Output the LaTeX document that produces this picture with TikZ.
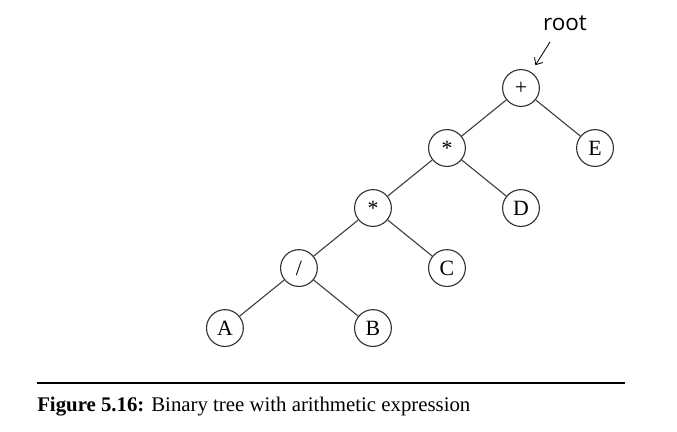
\documentclass[tikz,border=0pt]{standalone}
\usepackage{fontspec}
\setmainfont{Liberation Serif}
\newfontfamily\rootfont{Open Sans}
\usetikzlibrary{positioning, arrows.meta}

\begin{document}
\begin{tikzpicture}[x=0.025cm, y=-0.025cm, node distance=1.5cm and 1.85cm, on grid, >={Straight Barb[length=4pt, width=7pt]}]
    \tikzset{
        opnode/.style={draw, circle, line width=0.8pt, draw=black!80, minimum size=0.92cm, inner sep=0pt, font=\fontsize{15.5}{17}\selectfont},
        edge/.style={line width=0.8pt, draw=black!75}
    }
    \useasboundingbox (0,0) rectangle (677,432);

    % 树节点
    \node[opnode] (plus) at (521,88) {+};
    \node[opnode, below right=of plus] (e) {E};
    \node[opnode, below left=of plus] (mul1) {*};
    \node[opnode, below right=of mul1] (d) {D};
    \node[opnode, below left=of mul1] (mul2) {*};
    \node[opnode, below right=of mul2] (c) {C};
    \node[opnode, below left=of mul2] (div) {/};
    \node[opnode, below left=of div] (a) {A};
    \node[opnode, below right=of div] (b) {B};

    % 树边
    \draw[edge] (plus) -- (mul1);
    \draw[edge] (plus) -- (e);
    \draw[edge] (mul1) -- (mul2);
    \draw[edge] (mul1) -- (d);
    \draw[edge] (mul2) -- (div);
    \draw[edge] (mul2) -- (c);
    \draw[edge] (div) -- (a);
    \draw[edge] (div) -- (b);

    % 根标记
    \node[font=\rootfont\fontsize{16}{18}\selectfont] (rlabel) at (565,23) {root};
    \coordinate (rtail) at (550,42);
    \draw[->, line width=0.6pt, shorten >=0.2cm] (rtail) -- (plus);

    % 图题
    \coordinate (rulel) at (37,383);
    \coordinate (ruler) at (625,383);
    \draw[line width=1.3pt] (rulel) -- (ruler);
    \node[anchor=base west, inner sep=0pt, font=\fontsize{14.8}{17}\selectfont] (caption) at (37,411)
        {\textbf{Figure 5.16:} Binary tree with arithmetic expression};
\end{tikzpicture}
\end{document}
